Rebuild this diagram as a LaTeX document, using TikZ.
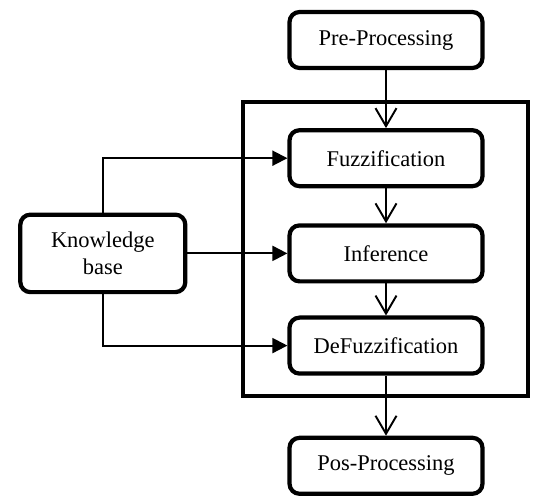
\documentclass[tikz,border=0pt]{standalone}
\usepackage{fontspec}
\setmainfont{Liberation Serif}
\usepackage{tikz}
\usetikzlibrary{arrows.meta}
\usetikzlibrary{positioning}
\tikzset{%
  stage/.style={draw,line width=2.4pt,rounded corners=0.2cm,minimum width=3.86cm,minimum height=1.12cm,align=center,font=\fontsize{12.8}{15.3}\selectfont},
  frame/.style={line width=2.3pt},
  flow/.style={line width=1.1pt,-{Straight Barb[length=0.36cm,width=0.42cm,line width=1.1pt]}},
  feed/.style={line width=1.1pt,-{Triangle[length=0.3cm,width=0.3cm]}}
}
\begin{document}
\begin{tikzpicture}[x=0.02cm,y=-0.02cm]
  \useasboundingbox (0,0) rectangle (550,503);

  \node[stage] (pre) at (386,40) {Pre-Processing};
  \node[stage,below=1.16cm of pre] (fuzz) {Fuzzification};
  \node[stage,below=0.7cm of fuzz] (inf) {Inference};
  \node[stage,below=0.64cm of inf] (defuzz) {DeFuzzification};
  \node[stage,below=1.2cm of defuzz] (pos) {Pos-Processing};
  \node[stage,minimum width=3.3cm,minimum height=1.55cm,left=2cm of inf] (kb) {Knowledge\\base};

  % fuzzy inference system
  \draw[frame] (243,102) rectangle (528,396);

  \draw[flow] (pre) -- (fuzz);
  \draw[flow] (fuzz) -- (inf);
  \draw[flow] (inf) -- (defuzz);
  \draw[flow] (defuzz) -- (pos);

  % rules from the knowledge base
  \draw[feed] (kb.north) |- (fuzz.west);
  \draw[feed] (kb.east) -- (kb.east -| inf.west);
  \draw[feed] (kb.south) |- (defuzz.west);
\end{tikzpicture}
\end{document}
